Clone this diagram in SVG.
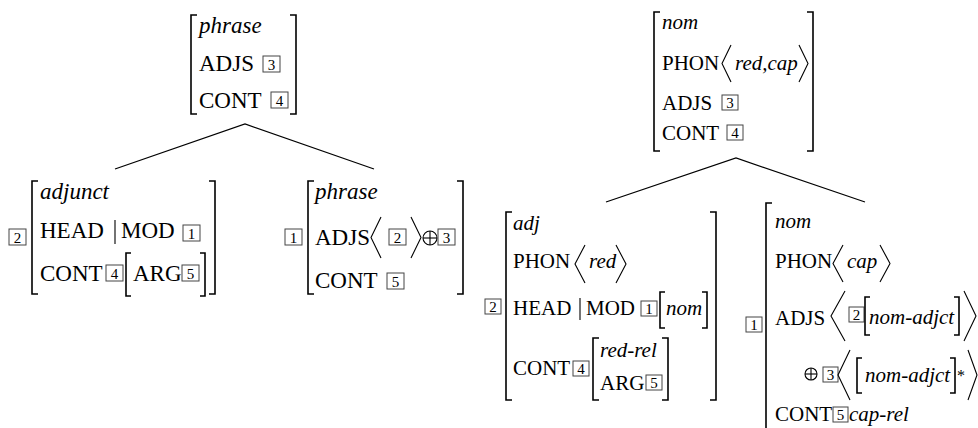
<svg xmlns="http://www.w3.org/2000/svg" width="978" height="428" viewBox="0 0 978 428">
<style>
.t{font-family:"Liberation Serif","Times New Roman",serif;font-size:23px;fill:#000}
.r{font-size:21px}
.i{font-style:italic}
.br{fill:none;stroke:#000;stroke-width:1.6}
.ang{fill:none;stroke:#000;stroke-width:1.1}
.bx{fill:#fff;stroke:#444;stroke-width:1}
.d{font-family:"Liberation Serif","Times New Roman",serif;font-size:15px;text-anchor:middle;fill:#000}
.ln{fill:none;stroke:#000;stroke-width:1.2}
</style>
<rect width="978" height="428" fill="#fff"/>

<g id="connectors">
<path class="ln" d="M115,169 L245,124 L374,169"/>
<path class="ln" d="M606,202 L736,158 L865,202"/>
</g>

<g id="node-top-left">
<path class="br" d="M197,15 H191 V114 H197"/>
<path class="br" d="M290,15 H296 V114 H290"/>
<text class="t i" x="199" y="33">phrase</text>
<text class="t" x="199" y="71">ADJS</text>
<rect class="bx" x="263" y="56" width="17" height="16"/><text class="d" x="271.5" y="69.5">3</text>
<text class="t" x="199" y="108">CONT</text>
<rect class="bx" x="271" y="92" width="17" height="16"/><text class="d" x="279.5" y="105.5">4</text>
</g>

<g id="node-adjunct">
<rect class="bx" x="9" y="229" width="17" height="16"/><text class="d" x="17.5" y="242.5">2</text>
<path class="br" d="M38,181 H32 V294 H38"/>
<path class="br" d="M209,181 H215 V294 H209"/>
<text class="t i" x="40" y="199">adjunct</text>
<text class="t" x="40" y="238">HEAD</text>
<line class="ang" x1="115" y1="220" x2="115" y2="244"/>
<text class="t" x="121" y="238">MOD</text>
<rect class="bx" x="183" y="225" width="17" height="16"/><text class="d" x="191.5" y="238.5">1</text>
<text class="t" x="40" y="281">CONT</text>
<rect class="bx" x="106" y="265" width="17" height="16"/><text class="d" x="114.5" y="278.5">4</text>
<path class="br" d="M131,253 H126 V296 H131"/>
<text class="t" x="133" y="281">ARG</text>
<rect class="bx" x="182" y="265" width="17" height="16"/><text class="d" x="190.5" y="278.5">5</text>
<path class="br" d="M200,253 H205 V296 H200"/>
</g>

<g id="node-phrase-head">
<rect class="bx" x="285" y="229" width="17" height="16"/><text class="d" x="293.5" y="242.5">1</text>
<path class="br" d="M314,181 H308 V294 H314"/>
<path class="br" d="M457,181 H463 V294 H457"/>
<text class="t i" x="315" y="199">phrase</text>
<text class="t" x="315" y="245">ADJS</text>
<path class="ang" d="M381,217 L371,237.5 L381,258"/>
<rect class="bx" x="389" y="229" width="17" height="16"/><text class="d" x="397.5" y="242.5">2</text>
<path class="ang" d="M411,217 L421,237.5 L411,258"/>
<circle class="ang" cx="430" cy="238" r="7"/>
<line class="ang" x1="423" y1="238" x2="437" y2="238"/>
<line class="ang" x1="430" y1="231" x2="430" y2="245"/>
<rect class="bx" x="438" y="229" width="17" height="16"/><text class="d" x="446.5" y="242.5">3</text>
<text class="t" x="315" y="288">CONT</text>
<rect class="bx" x="387" y="273" width="17" height="16"/><text class="d" x="395.5" y="286.5">5</text>
</g>

<g id="node-top-right">
<path class="br" d="M660,12 H654 V151 H660"/>
<path class="br" d="M807,12 H813 V151 H807"/>
<text class="t r i" x="662" y="29">nom</text>
<text class="t r" x="662" y="70">PHON</text>
<path class="ang" d="M731,45 L722,63.5 L731,82"/>
<text class="t r i" x="735" y="70">red,cap</text>
<path class="ang" d="M799,45 L808,63.5 L799,82"/>
<text class="t r" x="662" y="110">ADJS</text>
<rect class="bx" x="722" y="95" width="16" height="15"/><text class="d" x="730" y="108">3</text>
<text class="t r" x="662" y="140">CONT</text>
<rect class="bx" x="727" y="125" width="16" height="15"/><text class="d" x="735" y="138">4</text>
</g>

<g id="node-adj">
<rect class="bx" x="485" y="299" width="16" height="15"/><text class="d" x="493" y="312">2</text>
<path class="br" d="M512,212 H506 V400 H512"/>
<path class="br" d="M710,212 H716 V400 H710"/>
<text class="t r i" x="513" y="230">adj</text>
<text class="t r" x="513" y="268">PHON</text>
<path class="ang" d="M585,245 L575,264 L585,283"/>
<text class="t r i" x="589" y="268">red</text>
<path class="ang" d="M616,245 L626,264 L616,283"/>
<text class="t r" x="513" y="315">HEAD</text>
<line class="ang" x1="580" y1="298" x2="580" y2="320"/>
<text class="t r" x="586" y="315">MOD</text>
<rect class="bx" x="641" y="301" width="16" height="15"/><text class="d" x="649" y="314">1</text>
<path class="br" d="M665,292 H660 V328 H665"/>
<text class="t r i" x="666" y="315">nom</text>
<path class="br" d="M702,292 H707 V328 H702"/>
<text class="t r" x="513" y="375">CONT</text>
<rect class="bx" x="573" y="361" width="16" height="15"/><text class="d" x="581" y="374">4</text>
<path class="br" d="M599,338 H593 V400 H599"/>
<text class="t r i" x="600" y="357">red-rel</text>
<text class="t r" x="600" y="390">ARG</text>
<rect class="bx" x="646" y="375" width="16" height="15"/><text class="d" x="654" y="388">5</text>
<path class="br" d="M662,338 H668 V400 H662"/>
</g>

<g id="node-nom">
<rect class="bx" x="746" y="317" width="16" height="15"/><text class="d" x="754" y="330">1</text>
<path class="br" d="M772,203 H766 V440"/>
<text class="t r i" x="775" y="228">nom</text>
<text class="t r" x="775" y="268">PHON</text>
<path class="ang" d="M843,245 L833,263.5 L843,282"/>
<text class="t r i" x="847" y="268">cap</text>
<path class="ang" d="M880,245 L890,263.5 L880,282"/>
<text class="t r" x="775" y="325">ADJS</text>
<path class="ang" d="M845,291 L831,316 L845,341"/>
<rect class="bx" x="849" y="307" width="15" height="15"/><text class="d" x="856.5" y="320">2</text>
<path class="br" d="M870,297 H865 V335 H870"/>
<text class="t r i" x="869" y="324">nom-adjct</text>
<path class="br" d="M954,297 H959 V335 H954"/>
<path class="ang" d="M964,291 L976,316 L964,341"/>
<circle class="ang" cx="811" cy="374" r="6"/>
<line class="ang" x1="805" y1="374" x2="817" y2="374"/>
<line class="ang" x1="811" y1="368" x2="811" y2="380"/>
<rect class="bx" x="823" y="367" width="15" height="15"/><text class="d" x="830.5" y="380">3</text>
<path class="ang" d="M850,350 L838,375 L850,400"/>
<path class="br" d="M862,358 H857 V393 H862"/>
<text class="t r i" x="865" y="382">nom-adjct</text>
<path class="br" d="M950,358 H955 V393 H950"/>
<text class="t" x="957" y="381" style="font-size:16px">*</text>
<path class="ang" d="M968,350 L977,375 L968,400"/>
<text class="t r" x="775" y="421">CONT</text>
<rect class="bx" x="833" y="407" width="15" height="15"/><text class="d" x="840.5" y="420">5</text>
<text class="t r i" x="849" y="421">cap-rel</text>
</g>
</svg>
